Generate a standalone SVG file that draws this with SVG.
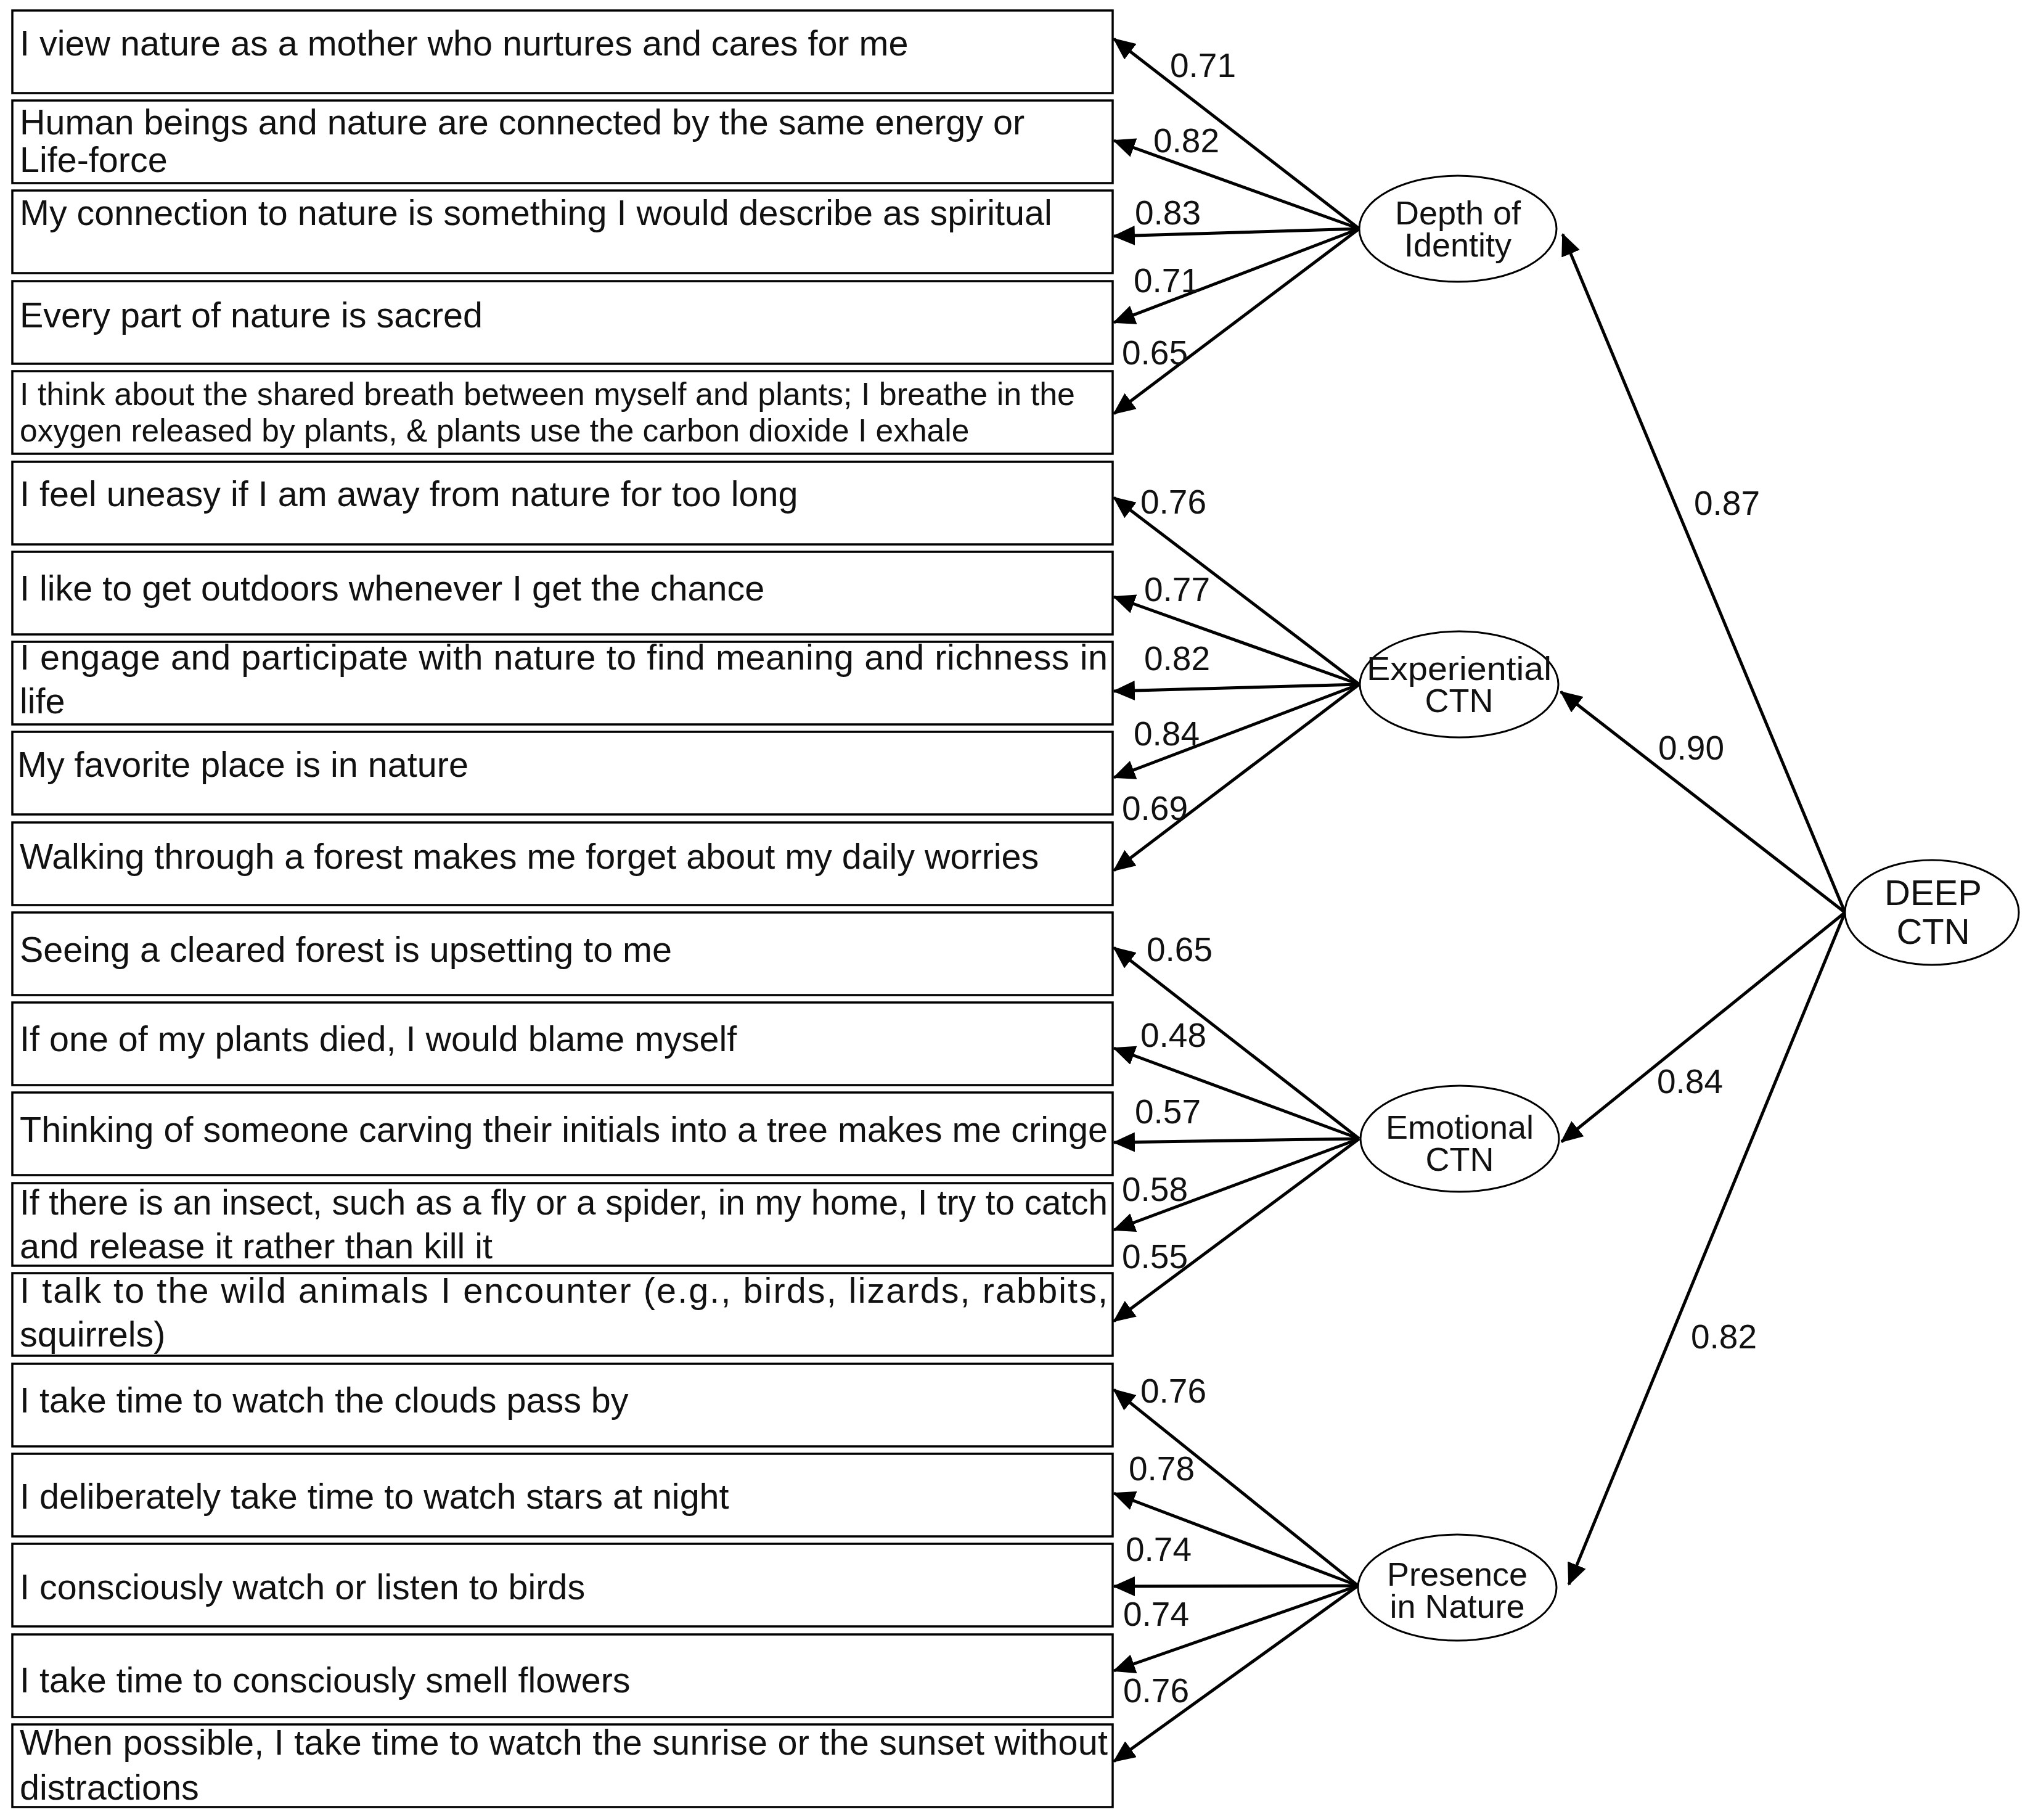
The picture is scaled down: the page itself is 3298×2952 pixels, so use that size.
<svg xmlns="http://www.w3.org/2000/svg" width="3298" height="2952" viewBox="0 0 3298 2952">
<style>
.box{fill:#fff;stroke:#000;stroke-width:3.5}
.t{font-family:"Liberation Sans",Arial,sans-serif;font-size:57.5px;fill:#111}
.ts{font-family:"Liberation Sans",Arial,sans-serif;font-size:51.5px;fill:#111}
.n{font-family:"Liberation Sans",Arial,sans-serif;font-size:55px;fill:#111}
.lv{fill:#fff;stroke:#000;stroke-width:3}
.lt{font-family:"Liberation Sans",Arial,sans-serif;font-size:54px;fill:#111;text-anchor:middle}
.c{stroke:#000;stroke-width:5;fill:none;marker-end:url(#ah)}
</style>
<defs>
<marker id="ah" markerUnits="userSpaceOnUse" markerWidth="36" markerHeight="32" refX="34" refY="16" orient="auto">
<path d="M0,0 L36,16 L0,32 Z" fill="#000"/>
</marker>
</defs>
<rect width="3298" height="2952" fill="#fff"/>
<g id="items">
<g id="i1"><rect class="box" x="20" y="17" width="1785" height="134"/><text class="t" x="32" y="90">I view nature as a mother who nurtures and cares for me</text></g>
<g id="i2"><rect class="box" x="20" y="163" width="1785" height="134"/><text class="t" x="32" y="218">Human beings and nature are connected by the same energy or</text><text class="t" x="32" y="279">Life-force</text></g>
<g id="i3"><rect class="box" x="20" y="309" width="1785" height="134"/><text class="t" x="32" y="365">My connection to nature is something I would describe as spiritual</text></g>
<g id="i4"><rect class="box" x="20" y="456" width="1785" height="134"/><text class="t" x="32" y="531">Every part of nature is sacred</text></g>
<g id="i5"><rect class="box" x="20" y="602" width="1785" height="134"/><text class="ts" x="32" y="657" textLength="1712" lengthAdjust="spacingAndGlyphs">I think about the shared breath between myself and plants; I breathe in the</text><text class="ts" x="32" y="716">oxygen released by plants, &amp; plants use the carbon dioxide I exhale</text></g>
<g id="i6"><rect class="box" x="20" y="749" width="1785" height="134"/><text class="t" x="32" y="821">I feel uneasy if I am away from nature for too long</text></g>
<g id="i7"><rect class="box" x="20" y="895" width="1785" height="134"/><text class="t" x="32" y="974">I like to get outdoors whenever I get the chance</text></g>
<g id="i8"><rect class="box" x="20" y="1041" width="1785" height="134"/><text class="t" x="32" y="1086" textLength="1765" lengthAdjust="spacing">I engage and participate with nature to find meaning and richness in</text><text class="t" x="32" y="1157">life</text></g>
<g id="i9"><rect class="box" x="20" y="1187" width="1785" height="134"/><text class="t" x="28" y="1260">My favorite place is in nature</text></g>
<g id="i10"><rect class="box" x="20" y="1334" width="1785" height="134"/><text class="t" x="32" y="1409">Walking through a forest makes me forget about my daily worries</text></g>
<g id="i11"><rect class="box" x="20" y="1480" width="1785" height="134"/><text class="t" x="32" y="1560">Seeing a cleared forest is upsetting to me</text></g>
<g id="i12"><rect class="box" x="20" y="1626" width="1785" height="134"/><text class="t" x="32" y="1705">If one of my plants died, I would blame myself</text></g>
<g id="i13"><rect class="box" x="20" y="1772" width="1785" height="134"/><text class="t" x="32" y="1852" textLength="1765" lengthAdjust="spacingAndGlyphs">Thinking of someone carving their initials into a tree makes me cringe</text></g>
<g id="i14"><rect class="box" x="20" y="1919" width="1785" height="134"/><text class="t" x="32" y="1970" textLength="1765" lengthAdjust="spacingAndGlyphs">If there is an insect, such as a fly or a spider, in my home, I try to catch</text><text class="t" x="32" y="2041">and release it rather than kill it</text></g>
<g id="i15"><rect class="box" x="20" y="2065" width="1785" height="134"/><text class="t" x="32" y="2113" textLength="1765" lengthAdjust="spacing">I talk to the wild animals I encounter (e.g., birds, lizards, rabbits,</text><text class="t" x="32" y="2184">squirrels)</text></g>
<g id="i16"><rect class="box" x="20" y="2212" width="1785" height="134"/><text class="t" x="32" y="2291">I take time to watch the clouds pass by</text></g>
<g id="i17"><rect class="box" x="20" y="2358" width="1785" height="134"/><text class="t" x="32" y="2447">I deliberately take time to watch stars at night</text></g>
<g id="i18"><rect class="box" x="20" y="2504" width="1785" height="134"/><text class="t" x="32" y="2594">I consciously watch or listen to birds</text></g>
<g id="i19"><rect class="box" x="20" y="2651" width="1785" height="134"/><text class="t" x="32" y="2745">I take time to consciously smell flowers</text></g>
<g id="i20"><rect class="box" x="20" y="2797" width="1785" height="134"/><text class="t" x="32" y="2846" textLength="1765" lengthAdjust="spacing">When possible, I take time to watch the sunrise or the sunset without</text><text class="t" x="32" y="2919">distractions</text></g>
</g>
<g id="connectors">
<line class="c" x1="2205" y1="371" x2="1807" y2="63"/>
<line class="c" x1="2205" y1="371" x2="1807" y2="228"/>
<line class="c" x1="2205" y1="371" x2="1807" y2="383"/>
<line class="c" x1="2205" y1="371" x2="1807" y2="523"/>
<line class="c" x1="2205" y1="371" x2="1807" y2="671"/>
<line class="c" x1="2205" y1="1110" x2="1807" y2="807"/>
<line class="c" x1="2205" y1="1110" x2="1807" y2="968"/>
<line class="c" x1="2205" y1="1110" x2="1807" y2="1121"/>
<line class="c" x1="2205" y1="1110" x2="1807" y2="1261"/>
<line class="c" x1="2205" y1="1110" x2="1807" y2="1412"/>
<line class="c" x1="2205" y1="1847" x2="1807" y2="1537"/>
<line class="c" x1="2205" y1="1847" x2="1807" y2="1700"/>
<line class="c" x1="2205" y1="1847" x2="1807" y2="1853"/>
<line class="c" x1="2205" y1="1847" x2="1807" y2="1995"/>
<line class="c" x1="2205" y1="1847" x2="1807" y2="2143"/>
<line class="c" x1="2203" y1="2572" x2="1807" y2="2254"/>
<line class="c" x1="2203" y1="2572" x2="1807" y2="2422"/>
<line class="c" x1="2203" y1="2572" x2="1807" y2="2573"/>
<line class="c" x1="2203" y1="2572" x2="1807" y2="2710"/>
<line class="c" x1="2203" y1="2572" x2="1807" y2="2857"/>
<line class="c" x1="2993" y1="1480" x2="2535" y2="380"/>
<line class="c" x1="2993" y1="1480" x2="2532" y2="1122"/>
<line class="c" x1="2993" y1="1480" x2="2533" y2="1852"/>
<line class="c" x1="2993" y1="1480" x2="2545" y2="2570"/>
</g>
<g id="weights">
<text class="n" x="1898" y="125">0.71</text>
<text class="n" x="1871" y="247">0.82</text>
<text class="n" x="1841" y="364">0.83</text>
<text class="n" x="1839" y="474">0.71</text>
<text class="n" x="1820" y="591">0.65</text>
<text class="n" x="1850" y="833">0.76</text>
<text class="n" x="1856" y="975">0.77</text>
<text class="n" x="1856" y="1087">0.82</text>
<text class="n" x="1839" y="1209">0.84</text>
<text class="n" x="1820" y="1330">0.69</text>
<text class="n" x="1860" y="1559">0.65</text>
<text class="n" x="1850" y="1698">0.48</text>
<text class="n" x="1841" y="1822">0.57</text>
<text class="n" x="1820" y="1948">0.58</text>
<text class="n" x="1820" y="2057">0.55</text>
<text class="n" x="1850" y="2275">0.76</text>
<text class="n" x="1831" y="2401">0.78</text>
<text class="n" x="1826" y="2532">0.74</text>
<text class="n" x="1822" y="2637">0.74</text>
<text class="n" x="1822" y="2761">0.76</text>
<text class="n" x="2748" y="835">0.87</text>
<text class="n" x="2690" y="1232">0.90</text>
<text class="n" x="2688" y="1773">0.84</text>
<text class="n" x="2743" y="2187">0.82</text>
</g>
<g id="depth"><ellipse class="lv" cx="2365" cy="371" rx="160" ry="86"/><text class="lt" x="2365" y="364">Depth  of</text><text class="lt" x="2365" y="416">Identity</text></g>
<g id="experiential"><ellipse class="lv" cx="2367" cy="1110" rx="161" ry="86"/><text class="lt" x="2367" y="1103" textLength="300" lengthAdjust="spacingAndGlyphs">Experiential</text><text class="lt" x="2367" y="1155">CTN</text></g>
<g id="emotional"><ellipse class="lv" cx="2368" cy="1847" rx="161" ry="86"/><text class="lt" x="2368" y="1847">Emotional</text><text class="lt" x="2368" y="1899">CTN</text></g>
<g id="presence"><ellipse class="lv" cx="2364" cy="2575" rx="161" ry="86"/><text class="lt" x="2364" y="2572">Presence</text><text class="lt" x="2364" y="2624">in Nature</text></g>
<g id="deep"><ellipse class="lv" cx="3134" cy="1480" rx="141" ry="85"/><text class="lt" x="3136" y="1468" style="font-size:58px">DEEP</text><text class="lt" x="3136" y="1531" style="font-size:58px">CTN</text></g>
</svg>
